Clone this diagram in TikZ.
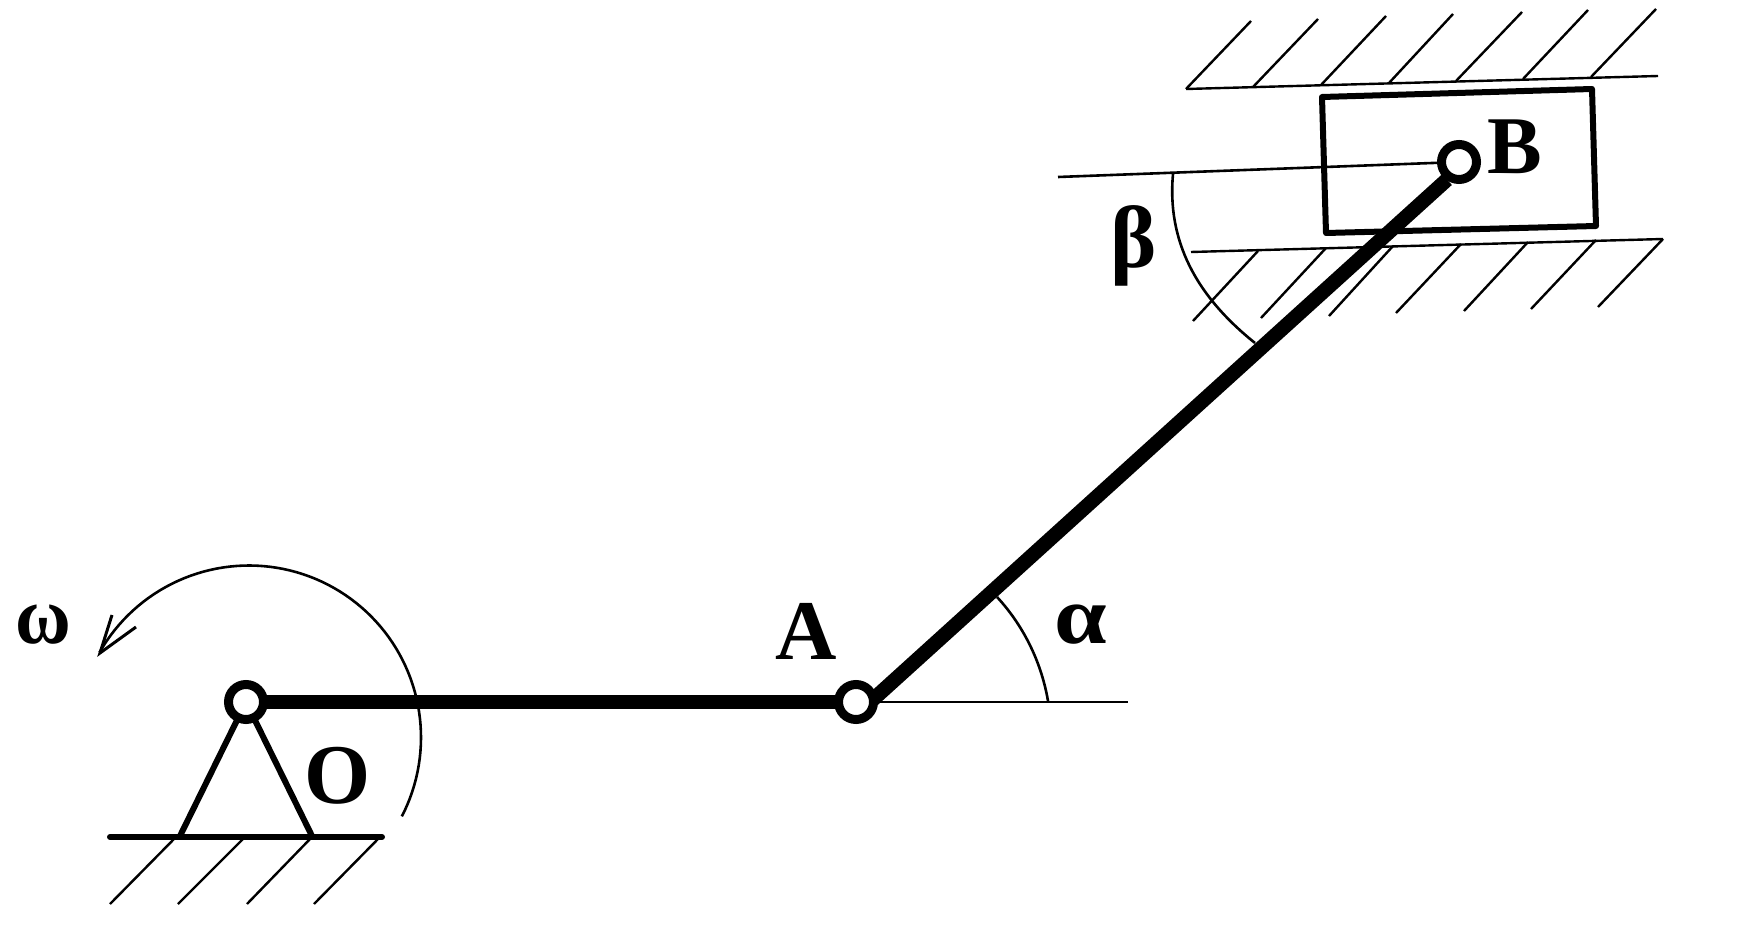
\documentclass[tikz,border=0pt]{standalone}
\usepackage{fontspec}
\setmainfont{Liberation Serif}
\usetikzlibrary{backgrounds}
\tikzset{
  hinge/.style={circle,draw=black,fill=white,line width=9pt,minimum size=35pt,inner sep=0pt,outer sep=0pt},
  rod/.style={line width=14.5pt,black,line join=round},
  thinl/.style={line width=2.6pt,black},
  hatch/.style={line width=2.4pt,black},
  bar/.style={line width=6pt,black,line cap=round},
  strut/.style={line width=6pt,black},
  slider/.style={line width=6pt,black,line join=round},
  lbl/.style={inner sep=0pt,outer sep=0pt,font=\fontsize{82pt}{90pt}\selectfont\bfseries,text=black,anchor=base west},
  lblbig/.style={lbl,font=\fontsize{85pt}{92pt}\selectfont\bfseries}
}
\begin{document}
\begin{tikzpicture}[x=1pt,y=-1pt]
\useasboundingbox (0,0) rectangle (1762,949);
% hinges
\node[hinge] (O) at (246,702) {};
\node[hinge] (A) at (856,702) {};
\node[hinge] (B) at (1459,162) {};
% free ends
\coordinate (sL) at (180,836);
\coordinate (sR) at (312,836);
\coordinate (aE) at (1128,702);
\coordinate (bE) at (1058,177);
\coordinate (r1) at (868,704);
\coordinate (r2) at (1447,179.6);
\begin{scope}[on background layer]
% top wall
\draw[hatch] (1186,89) -- (1658,76);
\foreach \xa/\ya/\xb/\yb in {1186/89/1251/21,1253/87/1318/19,1321/85/1386/16,1389/83/1453/14,1456/81/1522/12,1523/79/1588/10,1591/77/1656/9}
  \draw[hatch] (\xa,\ya) -- (\xb,\yb);
% bottom wall
\draw[hatch] (1191,252) -- (1663,239);
\foreach \xa/\ya/\xb/\yb in {1193/321/1258/251,1261/318/1326/248,1329/316/1393/246,1396/313/1461/244,1464/311/1528/242,1531/309/1596/240,1598/307/1663/239}
  \draw[hatch] (\xa,\ya) -- (\xb,\yb);
% slider
\draw[slider] (1322,97) -- (1592,89) -- (1596,226) -- (1326,233) -- cycle;
% reference lines
\draw[thinl] (A.center) -- (aE);
\draw[thinl] (B.center) -- (bE);
% angle arcs
\draw[thinl] (997,597) .. controls (1022,624) and (1041,660) .. (1048,701);
\draw[thinl] (1173,174) .. controls (1167,240) and (1195,295) .. (1255,343);
% omega arc
\draw[thinl] plot[domain=-27.3:150.4,samples=80] ({249+172*cos(\x)},{737.5-172*sin(\x)});
\draw[line width=3pt,black] (112,615) -- (100,653) -- (136,627);
% ground
\foreach \xa/\xb in {175/110,244/178,311/247,379/314}
  \draw[hatch] (\xa,838) -- (\xb,904);
\draw[bar] (110,837) -- (382,837);
% support
\draw[strut] (O.center) -- (sL);
\draw[strut] (O.center) -- (sR);
% rods
\draw[rod] (O.center) -- (A.center);
\draw[rod] (r1) -- (r2);
\end{scope}
% labels
\node[lblbig] (tA) at (775,659) {A};
\node[lbl] (tB) at (1487,174) {B};
\node[lblbig] (tO) at (304,803) {O};
\node[lbl,xscale=.93] (tw) at (15,643) {ω};
\node[lbl,xscale=1.15] (ta) at (1054,643) {α};
\node[lblbig,font=\fontsize{88pt}{92pt}\selectfont\bfseries] (tb) at (1110,268) {β};
\end{tikzpicture}
\end{document}
